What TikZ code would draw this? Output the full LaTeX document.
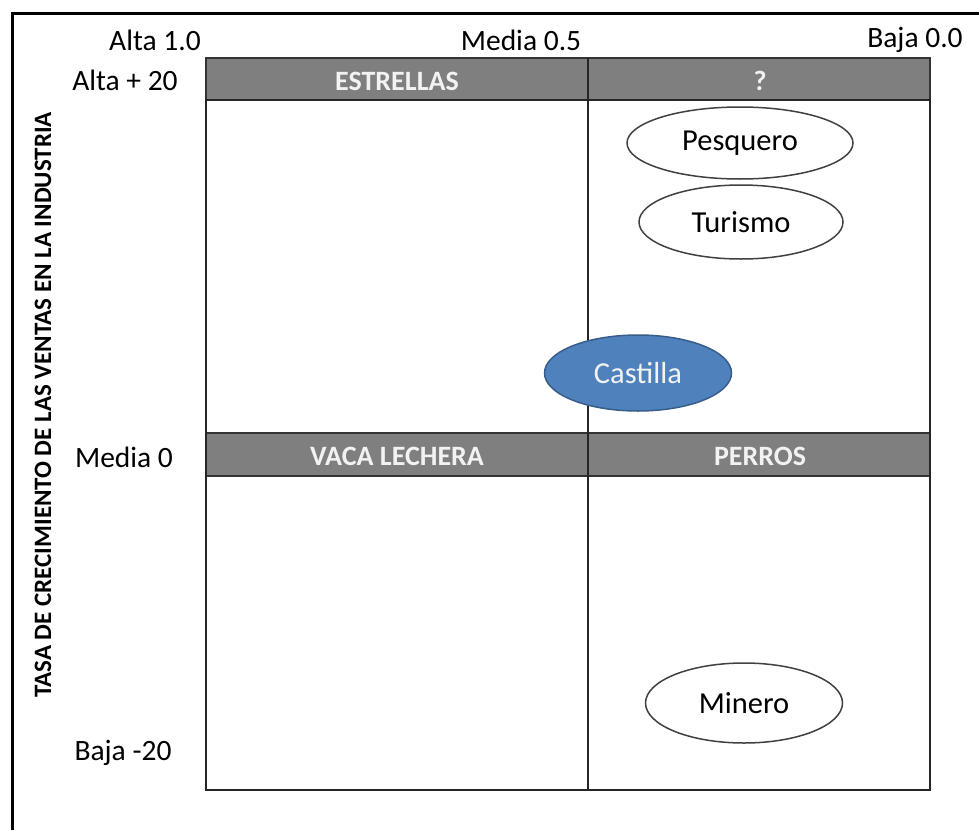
\documentclass[tikz,border=0pt]{standalone}
\usepackage{fontspec}
\setmainfont{Carlito}
\usetikzlibrary{shapes.geometric}
\definecolor{hdrgray}{HTML}{7F7F7F}
\definecolor{hdrtext}{HTML}{F2F2F2}
\definecolor{cblue}{HTML}{4F81BD}
\definecolor{cblueline}{HTML}{385D8A}
\begin{document}
\begin{tikzpicture}[x=1pt,y=-1pt]
\tikzstyle{axlab}=[font=\fontsize{29.5}{31}\selectfont, inner sep=0pt]
\tikzstyle{hdr}=[draw=black!80, line width=2pt, fill=hdrgray]
\tikzstyle{hdrlab}=[font=\fontsize{28}{30}\selectfont\bfseries, text=hdrtext, inner sep=0pt]
\tikzstyle{unit}=[ellipse, draw=black!75, line width=1.5pt, fill=white, inner sep=0pt,
  font=\fontsize{30.5}{32}\selectfont]
\useasboundingbox (0,0) rectangle (979,830);
% frame
\draw[line width=3pt] (12,830) -- (12,13) -- (979,13);

% quadrants
\draw[hdr] (206,58) rectangle (930,100);
\draw[hdr] (206,433) rectangle (930,476);
\draw[line width=1.5pt, black!85] (206,100) rectangle (930,790);
\draw[line width=1.5pt, black!85] (588,58) -- (588,790);
\foreach \n/\x/\y/\t in {est/397/81/ESTRELLAS, inc/760/81/?,
    vac/397/456/VACA LECHERA, per/760/456/PERROS} {
  \node[hdrlab] (\n) at (\x,\y) {\t};}

% axis labels
\node[axlab] (xhi) at (155,40) {Alta 1.0};
\node[axlab] (xmid) at (521,40) {Media 0.5};
\node[axlab] (xlo) at (915,40) {Baja 0.0};
\node[axlab] (yhi) at (125,80) {Alta + 20};
\node[axlab] (ymid) at (124,457) {Media 0};
\node[axlab] (ylo) at (123,753) {Baja -20};
\node[font=\fontsize{25}{27}\selectfont\bfseries, rotate=90, inner sep=0pt] (ytitle)
  at (43,405) {TASA DE CRECIMIENTO DE LAS VENTAS EN LA INDUSTRIA};

% units
\node[unit, minimum width=226pt, minimum height=72pt] (pesq) at (740,143) {Pesquero};
\node[unit, minimum width=204pt, minimum height=74pt] (tur) at (741,222) {Turismo};
\node[unit, minimum width=187pt, minimum height=76pt, fill=cblue, draw=cblueline,
  text=hdrtext] (cast) at (638,373) {Castilla};
\node[unit, minimum width=197pt, minimum height=80pt] (min) at (744,703) {Minero};
\end{tikzpicture}
\end{document}
